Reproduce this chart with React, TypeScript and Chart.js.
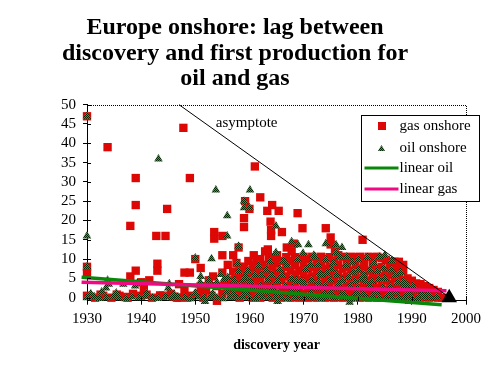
import React, { useEffect, useRef } from 'react';
import { Chart, registerables } from 'chart.js';

Chart.register(...registerables);

const FONT = '"Liberation Serif", "Times New Roman", serif';
const RED = '#dd0806';
const GREEN = '#0a870a';
const PINK = '#f20884';
const TRI_GREEN = '#18b418';
const TRI_DARK = '#022a02';

const titleLines = ['Europe onshore: lag between', 'discovery and first production for', 'oil and gas'];
const xTitle = 'discovery year';
const asymptoteLabel = 'asymptote';
const asymptoteLabelAt = [1953.8, 45.2];
const legendLabels = ['gas onshore', 'oil onshore', 'linear oil', 'linear gas'];

const xTicks = [1930, 1940, 1950, 1960, 1970, 1980, 1990, 2000];
const yTicks = [0, 5, 10, 15, 20, 25, 30, 35, 40, 45, 50];

const gasOnshore: number[][] = [
  [1930, 47], [1930, 8], [1930, 6.5], [1930, 0.5], [1931.5, 0], [1932.5, 0.8], [1933, 0.5], [1933.8, 39], [1934.5, 0],
  [1935.5, 0.8], [1936, 0.5], [1937, 0.2], [1937.5, 0], [1938, 18.6], [1938, 5.5], [1938.5, 1], [1939, 31], [1939, 24],
  [1939, 7], [1940, 4], [1940, 0.5], [1940.5, 2.5], [1941, 0.8], [1941.5, 4.5], [1942, 0], [1943, 8.8], [1943, 7],
  [1942.8, 16], [1943.5, 0.6], [1944.5, 16], [1944.8, 23], [1944, 0.5], [1945.5, 1], [1946, 0.3], [1946.6, 0],
  [1947, 3.5], [1947, 0], [1947.8, 44], [1948, 6.5], [1948, 2], [1948.5, 0], [1949, 31], [1949, 6.5], [1949.3, 0.5],
  [1950, 10], [1950.5, 1],
  [1951, 7.7], [1951, 3], [1951.5, 0], [1952, 2], [1952.5, 4.5], [1953.5, 17], [1953.5, 15.3], [1953, 0.5],
  [1953.3, 5.5], [1954, 3], [1954, -0.8], [1955, 16], [1955, 11], [1955, 6.5], [1955, 1], [1955.5, 3.5], [1956, 8.5],
  [1956, 2],
  [1956.6, 0.5], [1956.6, 2.5], [1956.6, 4.5], [1957, 6.8], [1957, 11],
  [1957.4, 1], [1957.4, 3], [1957.4, 5.5], [1957.6, 9],
  [1958.2, 0], [1958.2, 2], [1958.2, 4], [1958.2, 6], [1958.2, 8], [1958, 13],
  [1959, 1], [1959, 3.5], [1959, 6], [1959, 8], [1959, 18.3], [1959, 20.6], [1959.2, 25],
  [1959.8, 0.5], [1959.8, 2.5], [1959.8, 5], [1959.8, 7], [1959.8, 9.5], [1960, 23],
  [1960.6, 0], [1960.6, 2], [1960.6, 4], [1960.6, 6.5], [1960.6, 8.5], [1960.8, 11],
  [1961.3, 1], [1961.3, 3], [1961.3, 5.5], [1961.3, 9.3], [1961, 34],
  [1962, 0], [1962, 2.5], [1962, 4.5], [1962, 7], [1962, 10], [1962, 26],
  [1962.8, 1], [1962.8, 3], [1962.8, 6], [1962.8, 8.5], [1962.9, 12],
  [1963.6, 0.5], [1963.6, 2.5], [1963.6, 4.5], [1963.6, 7], [1963.6, 10], [1963.4, 12.5], [1963.3, 22.5],
  [1963.9, 19.7],
  [1964.3, 0], [1964.3, 2], [1964.3, 5], [1964.3, 8], [1964.3, 10.5], [1964, 16], [1964, 17.5], [1964.2, 24],
  [1965.1, 1], [1965.1, 3.5], [1965.1, 6], [1965.1, 9], [1965.1, 11], [1965.4, 22.5],
  [1965.9, 0], [1965.9, 2], [1965.9, 4.5], [1965.9, 7], [1965.9, 9.5], [1966, 17],
  [1966.8, 1], [1966.8, 3], [1966.8, 5.5], [1966.8, 8], [1966.8, 10.5], [1966.9, 13],
  [1967.6, 0], [1967.6, 2.5], [1967.6, 4.5], [1967.6, 7], [1967.6, 9.5], [1967.8, 12],
  [1968.4, 1], [1968.4, 3], [1968.4, 6], [1968.4, 8.5], [1968.4, 10.5], [1968.2, 14], [1968.9, 21.9],
  [1969.2, 0], [1969.2, 2], [1969.2, 4.5], [1969.2, 7], [1969.2, 10], [1969.8, 18],
  [1970, 1], [1970, 3.5], [1970, 6], [1970, 8.5], [1970, 10.6],
  [1970.8, 0], [1970.8, 2.5], [1970.8, 5], [1970.8, 7.5], [1970.8, 10],
  [1971.6, 1], [1971.6, 3], [1971.6, 5.5], [1971.6, 8], [1971.6, 10.6],
  [1972.4, 0], [1972.4, 2], [1972.4, 4.5], [1972.4, 7], [1972.4, 9.5],
  [1973.2, 1], [1973.2, 3.5], [1973.2, 6], [1973.2, 8.5], [1973.2, 10.6],
  [1974, 0], [1974, 2.5], [1974, 5], [1974, 7.5], [1974, 10], [1974.1, 18],
  [1974.8, 1], [1974.8, 3], [1974.8, 5.5], [1974.8, 8], [1974.8, 10.5], [1975, 13.8], [1975, 15.6],
  [1975.6, 0], [1975.6, 2], [1975.6, 4.5], [1975.6, 7], [1975.6, 9.5], [1975.8, 12],
  [1976.4, 1], [1976.4, 3.5], [1976.4, 6], [1976.4, 8.5], [1976.4, 11],
  [1977.2, 0], [1977.2, 2.5], [1977.2, 5], [1977.2, 7.5], [1977.2, 10.6],
  [1978, 1], [1978, 3], [1978, 5.5], [1978, 8], [1978, 10],
  [1978.8, 0], [1978.8, 2], [1978.8, 4.5], [1978.8, 7], [1978.8, 10.6],
  [1979.6, 1], [1979.6, 3.5], [1979.6, 6], [1979.6, 8.5], [1979.6, 10.5],
  [1980.4, 0], [1980.4, 2.5], [1980.4, 5], [1980.4, 7.5], [1980.4, 10.6], [1980.9, 15],
  [1981.2, 1], [1981.2, 3], [1981.2, 5.5], [1981.2, 8], [1981.2, 10],
  [1982, 0], [1982, 2], [1982, 4.5], [1982, 7], [1982, 10.6],
  [1982.8, 1], [1982.8, 3.5], [1982.8, 6], [1982.8, 8.5], [1982.8, 10.5],
  [1983.6, 0], [1983.6, 2.5], [1983.6, 5], [1983.6, 7.5], [1983.6, 10.6],
  [1984.4, 1], [1984.4, 3], [1984.4, 5.5], [1984.4, 8], [1984.4, 10.3],
  [1985.2, 0], [1985.2, 2], [1985.2, 4.5], [1985.2, 7], [1985.2, 9.8],
  [1986, 1], [1986, 3.5], [1986, 6], [1986, 8.5], [1986, 9.3],
  [1986.8, 0], [1986.8, 2.5], [1986.8, 5], [1986.8, 7.5], [1986.8, 9.3],
  [1987.6, 1], [1987.6, 3], [1987.6, 5.5], [1987.6, 8], [1987.6, 9.3],
  [1988.4, 0], [1988.4, 2], [1988.4, 4.5], [1988.4, 7], [1988.4, 8.5],
  [1989.2, 1], [1989.2, 3], [1989.2, 5],
  [1990, 0], [1990, 2], [1990, 4.4],
  [1990.8, 1], [1990.8, 3.7],
  [1991.6, 0], [1991.6, 2], [1991.6, 3.5],
  [1992.4, 1], [1992.4, 3],
  [1993.2, 0], [1993.2, 2.5],
  [1994, 1], [1994, 2],
  [1994.8, 0], [1994.8, 1.5],
  [1995.6, 0],
];

const oilOnshore: number[][] = [
  [1930, 0], [1931.3, 0.3], [1932.3, -0.2], [1933.6, 0], [1934.9, 0.4], [1935.9, 0], [1937.2, -0.3], [1938.3, 0.2],
  [1939.6, 0], [1940.7, 0.4], [1942.1, 0], [1943.1, -0.2], [1944.5, 0.3], [1945.6, 0], [1946.8, 0.2], [1948.1, 0],
  [1949.1, -0.3], [1950.4, 0.2], [1951.6, 0], [1952.9, 0.3], [1954, 0], [1955.1, -0.3], [1956.4, 0.2], [1957.6, 0],
  [1958.7, 0.3], [1960, 0], [1961.2, -0.2], [1962.3, 0.3], [1963.6, 0], [1964.8, 0.2], [1966, 0], [1967.1, -0.3],
  [1968.4, 0.2], [1969.6, 0], [1970.7, 0.3], [1972, 0], [1973.2, -0.2], [1974.3, 0.2], [1975.6, 0], [1976.8, 0.3],
  [1978, 0], [1979.1, -0.2], [1980.4, 0.2], [1981.6, 0], [1982.7, 0.3], [1984, 0], [1985.2, -0.2], [1986.3, 0.2],
  [1987.6, 0], [1988.8, 0.3], [1990, 0], [1991.1, -0.2], [1992.4, 0.2], [1993.5, 0], [1994.6, 0.2],
  [1951.8, -1], [1965.2, -1], [1978.5, -1.2], [1989.5, -1],
  [1930.7, 1], [1935.4, 1.2], [1941, 1], [1946.1, 0.8], [1950, 1.2], [1953.2, 1], [1955.8, 1.5], [1957, 1],
  [1959.4, 1.3], [1961.8, 1], [1963, 1.5], [1965.4, 1], [1967.8, 1.4], [1969, 1], [1971.4, 1.2], [1973.8, 1],
  [1975, 1.5], [1977.4, 1], [1979.8, 1.3], [1981, 1], [1983.4, 1.4], [1985.8, 1], [1987, 1.5], [1989.4, 1],
  [1991.8, 0.8], [1993, 1],
  [1956.8, 2.5], [1958.2, 3], [1960.6, 2.5], [1962, 3], [1964.2, 2.5], [1966.6, 3], [1968, 2.5], [1970.2, 3],
  [1972.6, 2.5], [1974, 3], [1976.2, 2.5], [1978.6, 3], [1980, 2.5], [1982.2, 3], [1984.6, 2.5], [1986, 2.8],
  [1988.4, 2.8], [1990.5, 2],
  [1950.9, 4], [1952.5, 4.5], [1954, 4], [1955.3, 4.8], [1957.2, 4.5], [1960.2, 4.2], [1961, 5.9], [1962.2, 5.9],
  [1963.4, 4.6], [1964.1, 5.9], [1965.2, 4.4], [1966, 5.9], [1967.8, 5],
  [1974.9, 4.6], [1976.5, 3.6], [1978.3, 5.2], [1979.2, 6.6], [1981.1, 6], [1983.9, 4.8], [1984.8, 7.6],
  [1986.2, 7.2], [1987.4, 4], [1987.9, 6.5], [1989.1, 3.4], [1990.2, 3], [1961.7, 8.2], [1963.8, 9.3],
  [1965.6, 7.4], [1970.4, 7.3], [1971.3, 8.6], [1975.2, 7.4], [1977.8, 8.3], [1979, 9.2], [1981.8, 10.4],
  [1984, 10.6], [1986.3, 9.6], [1957.8, 8.8], [1959.7, 7],
  [1930, 47], [1930, 16], [1930, 8], [1932.7, 1.5], [1933.5, 2.5], [1934, 3.5], [1933.8, 4.5], [1936.7, 3.5],
  [1938.9, 3], [1939.3, 3.8], [1943.2, 35.9], [1945, 2.5], [1945.2, 3.6], [1950, 10.3], [1951, 5.5], [1953, 10.1],
  [1953.8, 27.9], [1954.7, 6], [1955.9, 21.2], [1955.9, 16], [1956, 5.2], [1958, 13.3], [1958, 6.8], [1958.9, 4.6],
  [1959, 25], [1959, 23.3], [1959.3, 5.5], [1960.1, 27.9], [1960, 23.3], [1963.1, 7.2], [1964.9, 18.6],
  [1964.9, 11.7], [1966.3, 9.6], [1966.9, 8.5], [1967.8, 14.5], [1968.7, 4.4], [1968.9, 9.8], [1969, 13.7],
  [1969.5, 4.2], [1969.9, 11.5], [1970, 4], [1970.9, 13.7], [1971.5, 4.5], [1971.9, 11], [1972.1, 10.6],
  [1972.7, 8.5], [1972.8, 4], [1973, 6.3], [1973.3, 5.9], [1974.1, 14], [1974.1, 9.8], [1974.3, 6.3], [1975.5, 9],
  [1976, 13.7], [1976, 11.7], [1976.1, 5.9], [1976.7, 10.6], [1977.1, 13], [1977.2, 4.4], [1978, 10.6],
  [1979.5, 4.2], [1980.1, 9.8], [1980.1, 7.2], [1980.7, 5], [1981.5, 4.2], [1982.3, 7.2], [1982.6, 4.2], [1983, 9],
  [1983.6, 6.8], [1985, 11], [1985, 5], [1986.9, 5.8], [1988.4, 4.2],
];

const linearOil: number[][] = [[1929, 5.3], [1995.5, -1.8]];
const linearGas: number[][] = [[1929, 4.0], [1996.4, 1.8]];
const asymptote: number[][] = [[1947, 50], [1997, 0]];
const latestField: number[][] = [[1996.9, 0]];

const toXY = (arr: number[][]) => arr.map(([x, y]) => ({ x, y }));

export default function App() {
  const ref = useRef<HTMLCanvasElement>(null);

  useEffect(() => {
    const canvas = ref.current as HTMLCanvasElement;
    const pc = document.createElement('canvas');
    pc.width = 2;
    pc.height = 2;
    const pctx = pc.getContext('2d') as CanvasRenderingContext2D;
    pctx.fillStyle = TRI_DARK;
    pctx.fillRect(0, 0, 2, 2);
    pctx.fillStyle = TRI_GREEN;
    pctx.fillRect(1, 0, 1, 1);
    pctx.fillRect(0, 1, 1, 1);
    const pattern = (canvas.getContext('2d') as CanvasRenderingContext2D).createPattern(pc, 'repeat') as CanvasPattern;

    const overlay = {
      id: 'overlay',
      afterDatasetsDraw(chart: any) {
        const { ctx, chartArea: ca, scales } = chart;
        const xs = scales.x;
        const ys = scales.y;
        ctx.save();
        ctx.strokeStyle = '#000';
        ctx.lineWidth = 1;
        ctx.setLineDash([1, 1]);
        const ty = Math.round(ca.top) + 0.5;
        const rx = Math.round(ca.right) + 0.5;
        ctx.beginPath();
        ctx.moveTo(Math.round(ca.left), ty);
        ctx.lineTo(rx, ty);
        ctx.lineTo(rx, Math.round(ca.bottom));
        ctx.stroke();
        ctx.setLineDash([]);
        ctx.beginPath();
        yTicks.forEach((v) => {
          const py = Math.round(ys.getPixelForValue(v)) + 0.5;
          ctx.moveTo(Math.round(ca.left), py);
          ctx.lineTo(Math.round(ca.left) + 4, py);
        });
        xTicks.forEach((v) => {
          const px = Math.round(xs.getPixelForValue(v)) + 0.5;
          ctx.moveTo(px, Math.round(ca.bottom));
          ctx.lineTo(px, Math.round(ca.bottom) - 4);
        });
        ctx.stroke();
        ctx.fillStyle = '#000';
        ctx.font = `15px ${FONT}`;
        ctx.textAlign = 'left';
        ctx.textBaseline = 'middle';
        ctx.fillText(asymptoteLabel, xs.getPixelForValue(asymptoteLabelAt[0]), ys.getPixelForValue(asymptoteLabelAt[1]));
        const bx = Math.round(ca.right) - 105 + 0.5;
        const by = Math.round(ca.top) + 10 + 0.5;
        const bw = 118;
        const bh = 86;
        ctx.fillStyle = '#fff';
        ctx.fillRect(bx, by, bw, bh);
        ctx.strokeStyle = '#000';
        ctx.lineWidth = 1;
        ctx.strokeRect(bx, by, bw, bh);
        const rows = [by + 10.5, by + 32.5, by + 52.5, by + 73.5];
        const mx = bx + 20;
        ctx.fillStyle = RED;
        ctx.fillRect(Math.round(mx - 4), Math.round(rows[0] - 4), 8, 8);
        ctx.fillStyle = pattern;
        ctx.beginPath();
        ctx.moveTo(mx, rows[1] - 3);
        ctx.lineTo(mx + 3.5, rows[1] + 3);
        ctx.lineTo(mx - 3.5, rows[1] + 3);
        ctx.closePath();
        ctx.fill();
        ctx.lineWidth = 3;
        ctx.strokeStyle = GREEN;
        ctx.beginPath();
        ctx.moveTo(bx + 3, rows[2]);
        ctx.lineTo(bx + 37, rows[2]);
        ctx.stroke();
        ctx.strokeStyle = PINK;
        ctx.beginPath();
        ctx.moveTo(bx + 3, rows[3]);
        ctx.lineTo(bx + 37, rows[3]);
        ctx.stroke();
        ctx.fillStyle = '#000';
        ctx.font = `15px ${FONT}`;
        ctx.textBaseline = 'middle';
        legendLabels.forEach((t, i) => ctx.fillText(t, bx + 38, rows[i]));
        ctx.restore();
      },
    };

    const chart = new Chart(canvas, {
      type: 'scatter',
      data: {
        datasets: [
          {
            label: 'gas onshore', data: toXY(gasOnshore), pointStyle: 'rect', pointRadius: 5.9,
            backgroundColor: RED, borderWidth: 0, clip: false, order: 6,
          },
          {
            label: 'oil onshore', data: toXY(oilOnshore), pointStyle: 'triangle', pointRadius: 5,
            backgroundColor: pattern, borderWidth: 0, clip: false, order: 5,
          },
          {
            type: 'line', label: 'linear oil', data: toXY(linearOil), borderColor: GREEN, borderWidth: 3.5,
            pointRadius: 0, fill: false, clip: false, order: 4,
          },
          {
            type: 'line', label: 'linear gas', data: toXY(linearGas), borderColor: PINK, borderWidth: 3.5,
            pointRadius: 0, fill: false, clip: false, order: 3,
          },
          {
            type: 'line', label: 'asymptote', data: toXY(asymptote), borderColor: '#000', borderWidth: 1,
            pointRadius: 0, fill: false, clip: false, order: 2,
          },
          {
            label: 'latest', data: toXY(latestField), pointStyle: 'triangle', pointRadius: 9,
            backgroundColor: '#000', borderWidth: 0, clip: false, order: 1,
          },
        ] as any,
      },
      options: {
        animation: false,
        responsive: true,
        maintainAspectRatio: false,
        events: [],
        layout: { padding: { left: 4, right: 24, top: 0, bottom: 0 } },
        plugins: {
          legend: { display: false },
          tooltip: { enabled: false },
          title: {
            display: true,
            text: titleLines,
            color: '#000',
            font: { family: FONT, size: 24, weight: 'bold', lineHeight: 25.3 / 24 },
            padding: { top: 15.4, bottom: 13.4 },
          },
        },
        scales: {
          x: {
            type: 'linear',
            min: 1930,
            max: 2000,
            afterBuildTicks: (s: any) => { s.ticks = xTicks.map((v) => ({ value: v })); },
            afterFit: (s: any) => { s.height = 81.3; },
            grid: { display: true, drawOnChartArea: false, drawTicks: true, tickLength: 4, color: '#000', lineWidth: 1 },
            border: { display: true, color: '#000', width: 1 },
            ticks: {
              color: '#000', font: { family: FONT, size: 15 }, padding: 5, maxRotation: 0, autoSkip: false,
              callback: (v: any) => String(v),
            },
            title: {
              display: true, text: xTitle, color: '#000',
              font: { family: FONT, size: 14, weight: 'bold' }, padding: { top: 0, bottom: 28 },
            },
          },
          y: {
            type: 'linear',
            min: -0.78,
            max: 50,
            afterBuildTicks: (s: any) => { s.ticks = yTicks.map((v) => ({ value: v })); },
            afterFit: (s: any) => { s.width = 83; },
            grid: { display: true, drawOnChartArea: false, drawTicks: true, tickLength: 4, color: '#000', lineWidth: 1 },
            border: { display: true, color: '#000', width: 1 },
            ticks: {
              color: '#000', font: { family: FONT, size: 15 }, padding: 7, autoSkip: false,
              callback: (v: any) => String(v),
            },
          },
        },
      } as any,
      plugins: [overlay],
    });

    return () => chart.destroy();
  }, []);

  return (
    <div style={{ position: 'fixed', left: 0, top: 0, width: 490, height: 382, background: '#fff' }}>
      <canvas ref={ref} />
    </div>
  );
}
